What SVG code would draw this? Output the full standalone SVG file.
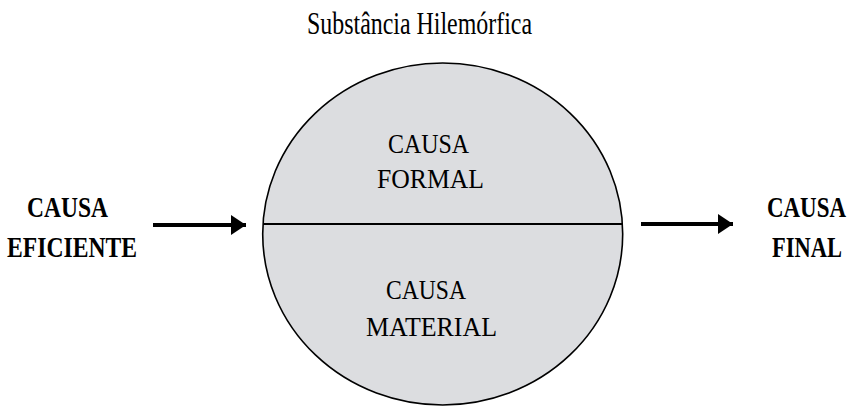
<svg xmlns="http://www.w3.org/2000/svg" width="852" height="407" viewBox="0 0 852 407">
<style>
.t{font-family:"Liberation Serif","Times New Roman",serif;fill:#000;text-anchor:middle}
.b{font-weight:bold;font-size:24px}
.r{font-size:28px}
.ti{font-size:31px}
.conn{stroke:#000;stroke-width:4;fill:none}
</style>
<defs>
<marker id="ah" markerUnits="userSpaceOnUse" markerWidth="16" markerHeight="22" refX="15" refY="11" orient="auto">
<path d="M0,1 L15,11 L0,21 Z" fill="#000"/>
</marker>
</defs>
<rect width="852" height="407" fill="#fff"/>
<g id="title">
<text class="t ti" x="419.5" y="34" textLength="225" lengthAdjust="spacingAndGlyphs">Substância Hilemórfica</text>
</g>
<g id="substancia">
<ellipse cx="442.7" cy="234" rx="180" ry="171" fill="#dcdde0" stroke="#000" stroke-width="1.6"/>
<line x1="263" y1="224" x2="623" y2="224" stroke="#000" stroke-width="2"/>
</g>
<g id="causa-formal">
<text class="t r" x="428.5" y="153" textLength="81" lengthAdjust="spacingAndGlyphs">CAUSA</text>
<text class="t r" x="430.5" y="188" textLength="107" lengthAdjust="spacingAndGlyphs">FORMAL</text>
</g>
<g id="causa-material">
<text class="t r" x="426" y="299" textLength="80" lengthAdjust="spacingAndGlyphs">CAUSA</text>
<text class="t r" x="431.5" y="336" textLength="131" lengthAdjust="spacingAndGlyphs">MATERIAL</text>
</g>
<g id="causa-eficiente">
<text class="t b" transform="translate(67.5,217) scale(1,1.25)" textLength="81" lengthAdjust="spacingAndGlyphs">CAUSA</text>
<text class="t b" transform="translate(72,257) scale(1,1.25)" textLength="130" lengthAdjust="spacingAndGlyphs">EFICIENTE</text>
</g>
<g id="causa-final">
<text class="t b" transform="translate(806.5,217) scale(1,1.25)" textLength="79" lengthAdjust="spacingAndGlyphs">CAUSA</text>
<text class="t b" transform="translate(807,257) scale(1,1.25)" textLength="70" lengthAdjust="spacingAndGlyphs">FINAL</text>
</g>
<g id="connectors">
<line class="conn" x1="153" y1="225" x2="246" y2="225" marker-end="url(#ah)"/>
<line class="conn" x1="641" y1="224" x2="733" y2="224" marker-end="url(#ah)"/>
</g>
</svg>
